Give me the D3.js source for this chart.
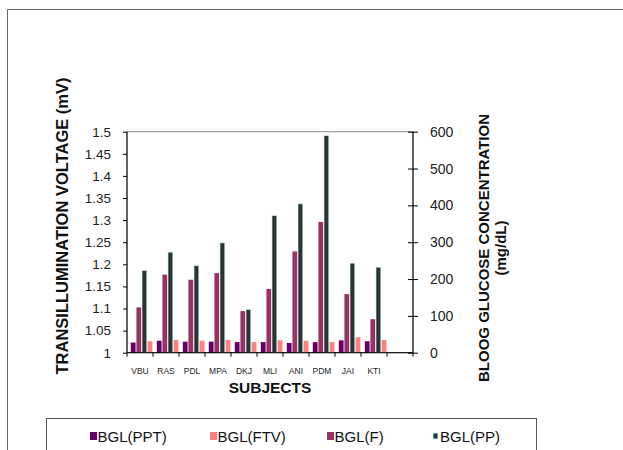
<!DOCTYPE html>
<html>
<head>
<meta charset="utf-8">
<script src="https://cdn.jsdelivr.net/npm/d3@7"></script>
<style>
  body { margin: 0; background: #fff; }
  svg { display: block; font-family: Arial, "Liberation Sans", sans-serif; }
</style>
</head>
<body>
<script>
// subjects, last slot on the axis is empty
const subjects = ["VBU", "RAS", "PDL", "MPA", "DKJ", "MLI", "ANI", "PDM", "JAI", "KTI", ""];

// left axis (mV)
const bglPPT = [1.023, 1.027, 1.025, 1.025, 1.024, 1.024, 1.022, 1.024, 1.028, 1.026];
const bglFTV = [1.026, 1.029, 1.027, 1.029, 1.024, 1.028, 1.027, 1.024, 1.035, 1.029];
// right axis (mg/dL)
const bglF = [123, 212, 198, 216, 113, 173, 275, 355, 159, 91];
const bglPP = [223, 273, 236, 298, 117, 372, 404, 589, 243, 232];

const leftTicks = [1, 1.05, 1.1, 1.15, 1.2, 1.25, 1.3, 1.35, 1.4, 1.45, 1.5];
const rightTicks = [0, 100, 200, 300, 400, 500, 600];

const seriesNames = ["BGL(PPT)", "BGL(FTV)", "BGL(F)", "BGL(PP)"];
const colors = {
  "BGL(PPT)": "#660066",
  "BGL(FTV)": "#ff8080",
  "BGL(F)": "#993366",
  "BGL(PP)": "#2b3333"
};

const W = 623, H = 450;
const pLeft = 127, pRight = 413, pTop = 131.7, pBottom = 352.7;

const svg = d3.select("body").append("svg")
  .attr("width", W)
  .attr("height", H);

svg.append("rect").attr("width", W).attr("height", H).attr("fill", "#fff");

// outer frame (cut off at right and bottom)
svg.append("path")
  .attr("d", "M7.5," + H + "V9.5H" + W)
  .attr("fill", "none")
  .attr("stroke", "#666")
  .attr("stroke-width", 1);

var x = d3.scaleBand().domain(d3.range(subjects.length)).range([pLeft, pRight]).padding(0);
// bar order inside a group: PPT, F, PP, FTV
var inner = d3.scaleBand()
  .domain(["BGL(PPT)", "BGL(F)", "BGL(PP)", "BGL(FTV)"])
  .range([3.8, 25.4])
  .paddingInner(0.15);

var yL = d3.scaleLinear().domain([1, 1.5]).range([pBottom, pTop]);
var yR = d3.scaleLinear().domain([0, 600]).range([pBottom, pTop]);

// plot border
svg.append("rect")
  .attr("x", pLeft).attr("y", pTop)
  .attr("width", pRight - pLeft).attr("height", pBottom - pTop)
  .attr("fill", "none")
  .attr("stroke", "#888");

var bars = [];
for (var i = 0; i < bglPPT.length; i++) {
  bars.push({ i: i, s: "BGL(PPT)", v: bglPPT[i], y: yL });
  bars.push({ i: i, s: "BGL(F)", v: bglF[i], y: yR });
  bars.push({ i: i, s: "BGL(PP)", v: bglPP[i], y: yR });
  bars.push({ i: i, s: "BGL(FTV)", v: bglFTV[i], y: yL });
}

svg.append("g").selectAll("rect")
  .data(bars)
  .enter()
  .append("rect")
  .attr("x", function (d) { return x(d.i) + inner(d.s); })
  .attr("width", inner.bandwidth())
  .attr("y", function (d) { return d.y(d.v); })
  .attr("height", function (d) { return pBottom - d.y(d.v); })
  .attr("fill", function (d) { return colors[d.s]; })
  .attr("stroke", function (d) { return d.s === "BGL(PP)" ? "#bfeeee" : "none"; })
  .attr("stroke-width", 0.6);

//------- AXES -------
var axL = svg.append("g")
  .attr("transform", "translate(" + pLeft + ",0)")
  .call(d3.axisLeft(yL).tickValues(leftTicks).tickSize(4).tickPadding(12)
    .tickFormat(function (d) { return String(+d.toFixed(2)); }));

var axR = svg.append("g")
  .attr("transform", "translate(" + pRight + ",0)")
  .call(d3.axisRight(yR).tickValues(rightTicks).tickSize(5).tickPadding(12));
axR.selectAll(".tick line").attr("x1", -5);

var axB = svg.append("g")
  .attr("transform", "translate(0," + pBottom + ")")
  .call(d3.axisBottom(x).tickSize(0).tickFormat(function (d) { return subjects[d]; }).tickPadding(15));

// category boundary ticks
axB.selectAll("line.sep")
  .data(d3.range(subjects.length + 1))
  .enter()
  .append("line")
  .attr("class", "sep")
  .attr("x1", function (d) { return pLeft + d * x.step(); })
  .attr("x2", function (d) { return pLeft + d * x.step(); })
  .attr("y1", 0).attr("y2", 4)
  .attr("stroke", "#000");

svg.selectAll(".domain").attr("stroke", "#000");
axL.selectAll(".domain").attr("d", "M0," + pTop + "V" + pBottom);
axR.selectAll(".domain").attr("d", "M0," + pTop + "V" + pBottom);
axB.selectAll(".domain").attr("d", "M" + pLeft + ",0H" + pRight);

axL.selectAll("text").attr("font-size", 13.5).attr("fill", "#222");
axR.selectAll("text").attr("font-size", 14).attr("fill", "#222");
axB.selectAll("text").attr("font-size", 8.5).attr("fill", "#222");

//------- TITLES -------
svg.append("text")
  .attr("transform", "translate(68,226) rotate(-90)")
  .attr("text-anchor", "middle")
  .attr("font-size", 16.5)
  .attr("font-weight", "bold")
  .attr("fill", "#111")
  .text("TRANSILLUMINATION VOLTAGE (mV)");

svg.append("text")
  .attr("transform", "translate(489,248) rotate(-90)")
  .attr("text-anchor", "middle")
  .attr("font-size", 15)
  .attr("font-weight", "bold")
  .attr("fill", "#111")
  .text("BLOOG GLUCOSE CONCENTRATION");

svg.append("text")
  .attr("transform", "translate(506,248) rotate(-90)")
  .attr("text-anchor", "middle")
  .attr("font-size", 15)
  .attr("font-weight", "bold")
  .attr("fill", "#111")
  .text("(mg/dL)");

svg.append("text")
  .attr("x", 270).attr("y", 393)
  .attr("text-anchor", "middle")
  .attr("font-size", 15.5)
  .attr("font-weight", "bold")
  .attr("fill", "#111")
  .text("SUBJECTS");

//------- LEGEND -------
var legend = svg.append("g");
legend.append("rect")
  .attr("x", 46.5).attr("y", 418.5)
  .attr("width", 490).attr("height", 40)
  .attr("fill", "#fff")
  .attr("stroke", "#555");

var legendX = [90, 210, 327, 432];
var item = legend.selectAll("g.item")
  .data(seriesNames)
  .enter()
  .append("g")
  .attr("class", "item")
  .attr("transform", function (d, i) { return "translate(" + legendX[i] + ",436)"; });

item.append("rect")
  .attr("x", function (d) { return d === "BGL(PP)" ? 1 : 0; })
  .attr("y", function (d) { return d === "BGL(PP)" ? -3 : -4; })
  .attr("width", function (d) { return d === "BGL(PP)" ? 5 : 7; })
  .attr("height", function (d) { return d === "BGL(PP)" ? 6 : 8; })
  .attr("fill", function (d) { return colors[d]; })
  .attr("stroke", function (d) { return d === "BGL(PP)" ? "#bfeeee" : "none"; });

item.append("text")
  .attr("x", function (d) { return d === "BGL(PP)" ? 8 : 7.5; })
  .attr("y", 5.5)
  .attr("font-size", 15)
  .attr("fill", "#111")
  .text(function (d) { return d; });
</script>
</body>
</html>
